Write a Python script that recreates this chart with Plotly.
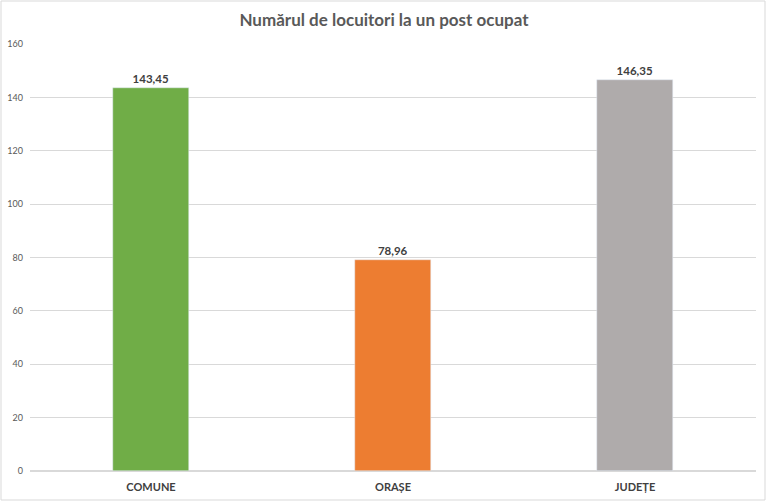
import plotly.graph_objects as go

# Date
categorii = ['COMUNE', 'ORAȘE', 'JUDEȚE']
valori = [143.45, 78.96, 146.35]
culori = ['#70AD47', '#ED7D31', '#AFABAB']

etichete = [f'{v:.2f}'.replace('.', ',') for v in valori]

W, H = 768, 502
ml, mr, mt, mb = 30, 12, 44, 31

fig = go.Figure(go.Bar(
    x=categorii, y=valori, marker_color=culori, width=0.315,
    text=etichete, textposition='outside', cliponaxis=False,
    textfont=dict(family='Lato', size=11.5, color='#404040', weight='bold'),
))

fig.update_layout(
    width=W, height=H,
    margin=dict(l=ml, r=mr, t=mt, b=mb),
    paper_bgcolor='white', plot_bgcolor='white',
    showlegend=False,
    title=dict(text='Numărul de locuitori la un post ocupat', x=0.5, xanchor='center',
               y=1 - 20 / H, yanchor='middle',
               font=dict(family='Lato', size=17, color='#595959', weight='bold')),
    xaxis=dict(showgrid=False, showline=False, ticks='', automargin=False,
               ticklabelstandoff=8,
               tickfont=dict(family='Lato', size=11, color='#404040', weight='bold')),
    yaxis=dict(range=[0, 160], dtick=20, gridcolor='#D9D9D9', gridwidth=1,
               zeroline=True, zerolinecolor='#D9D9D9', showline=False, automargin=False,
               tickfont=dict(family='Lato', size=9, color='#595959'), ticklabelstandoff=6),
    bargap=0,
)

pw, ph = W - ml - mr, H - mt - mb
fig.add_shape(type='rect', xref='paper', yref='paper',
              x0=-(ml - 1) / pw, x1=1 + (mr - 3) / pw,
              y0=-(mb - 2) / ph, y1=1 + (mt - 1) / ph,
              line=dict(color='#D9D9D9', width=1), layer='below')

fig.write_html('out.html', config={'displayModeBar': False},
               post_script="document.body.style.margin='0';")
